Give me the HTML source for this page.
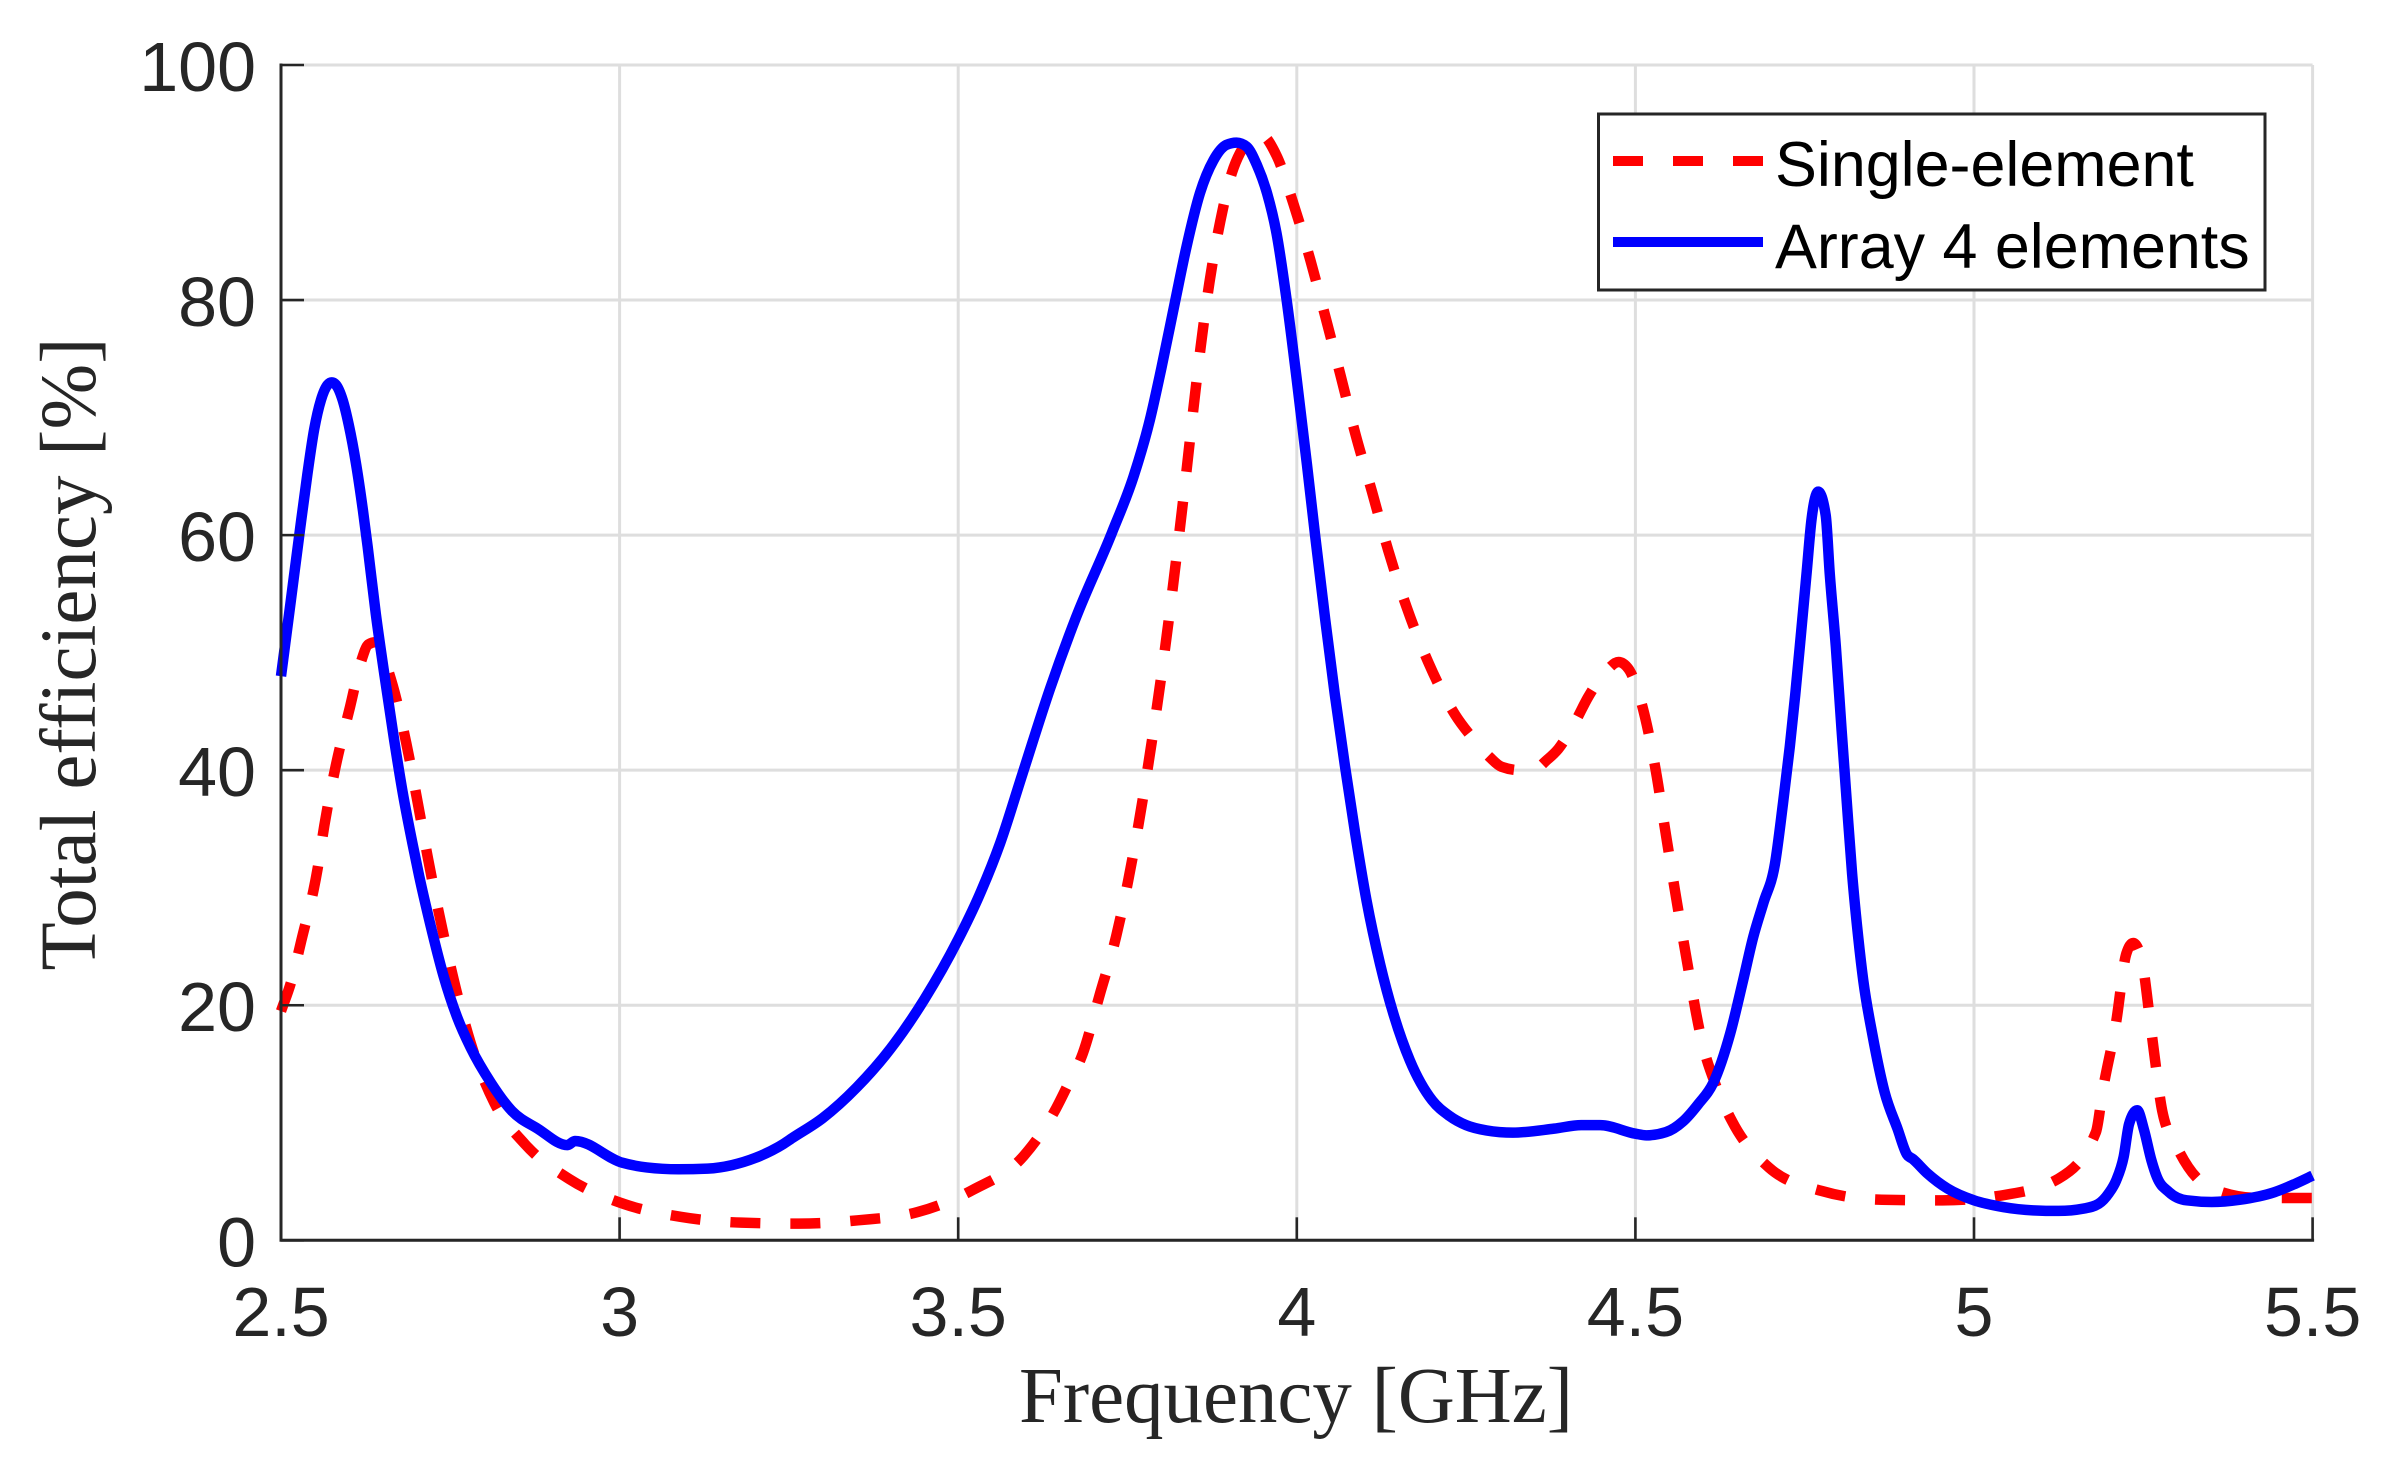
<!DOCTYPE html>
<html lang="en">
<head>
<meta charset="utf-8">
<title>Total efficiency vs frequency</title>
<style>
html,body{margin:0;padding:0;background:#fff;width:2390px;height:1474px;overflow:hidden}
svg{display:block}
.tick{font-family:"Liberation Sans",Arial,sans-serif;font-size:70px;fill:#262626}
.title{font-family:"Liberation Serif","Times New Roman",serif;font-size:79px;fill:#262626}
.leg{font-family:"Liberation Sans",Arial,sans-serif;font-size:62.8px;fill:#000}
</style>
</head>
<body>
<svg id="chart" width="2390" height="1474" viewBox="0 0 2390 1474" xmlns="http://www.w3.org/2000/svg">
  <rect x="0" y="0" width="2390" height="1474" fill="#fff"/>
  <g id="grid"></g>
  <g id="series"></g>
  <g id="axes"></g>
  <text class="title" x="1296" y="1422" text-anchor="middle" textLength="554" lengthAdjust="spacingAndGlyphs">Frequency [GHz]</text>
  <text class="title" transform="translate(95,654) rotate(-90)" text-anchor="middle" textLength="633" lengthAdjust="spacingAndGlyphs">Total efficiency [%]</text>
  <g>
    <rect x="1598.5" y="114" width="666.5" height="176" fill="#fff" stroke="#262626" stroke-width="3"/>
    <line x1="1613" y1="161" x2="1763" y2="161" stroke="#ff0000" stroke-width="10" stroke-dasharray="30 30"/>
    <text class="leg" x="1775" y="186">Single-element</text>
    <line x1="1613" y1="242" x2="1763" y2="242" stroke="#0000ff" stroke-width="10"/>
    <text class="leg" x="1775" y="268">Array 4 elements</text>
  </g>
</svg>
<script>
const xTicks = [2.5, 3, 3.5, 4, 4.5, 5, 5.5];
const xTickLabels = ['2.5', '3', '3.5', '4', '4.5', '5', '5.5'];
const yTicks = [0, 20, 40, 60, 80, 100];
const yTickLabels = ['0', '20', '40', '60', '80', '100'];

const arrayFreq = [2.5,2.514,2.527,2.539,2.549,2.559,2.569,2.575,2.581,2.591,2.6,2.611,2.621,2.628,2.64,2.653,2.667,2.68,2.694,2.704,2.72,2.74,2.76,2.78,2.81,2.841,2.879,2.923,2.934,3.004,3.04,3.087,3.13,3.166,3.2,3.242,3.255,3.3,3.35,3.4,3.45,3.5,3.53,3.562,3.595,3.636,3.674,3.727,3.759,3.783,3.8,3.82,3.837,3.857,3.877,3.896,3.911,3.926,3.941,3.956,3.97,3.985,4.0,4.015,4.027,4.042,4.056,4.071,4.086,4.103,4.123,4.143,4.167,4.2,4.225,4.25,4.28,4.319,4.38,4.42,4.448,4.5,4.516,4.545,4.57,4.593,4.615,4.64,4.659,4.674,4.689,4.706,4.718,4.728,4.736,4.745,4.753,4.76,4.77,4.781,4.787,4.796,4.8045,4.812,4.82,4.829,4.8365,4.85,4.868,4.887,4.901,4.91,4.931,4.961,5.0,5.043,5.087,5.125,5.162,5.184,5.199,5.21,5.221,5.229,5.241,5.251,5.262,5.27,5.288,5.314,5.351,5.392,5.444,5.474,5.5];
const arrayEff = [48,54.2,60,65.2,69,71.5,72.8,73,72.8,71.5,69.4,66,62.1,59,53.3,48,42.6,38,33.8,31,27,22.5,19,16.4,13.4,11,9.5,8.1,8.45,6.6,6.2,6.04,6.1,6.4,7,8.2,8.7,10.4,13,16.3,20.5,25.6,29.2,33.8,39.7,47,53,60.2,65,69.8,74.2,79.8,84.5,89.1,91.9,93.2,93.4,93.05,91.5,89.1,85.7,80,73.2,66,60,52.8,46.5,40.4,34.7,28.9,23.5,19.2,15.3,11.9,10.6,9.8,9.35,9.16,9.5,9.8,9.8,9.07,8.93,9.2,10.1,11.6,13.4,17.6,22.1,25.8,28.7,32,37.2,42,46.4,51.9,56.9,61.3,63.7,61.7,56.7,50.5,43.4,37.4,31.2,25.8,22.1,17.5,12.6,9.5,7.3,6.9,5.7,4.4,3.4,2.83,2.55,2.5,2.7,3.1,4,5.1,7.1,9.9,11.06,9.4,6.8,5.4,4.1,3.4,3.26,3.45,4.1,4.8,5.5];

const singleFreq = [2.5,2.515,2.53,2.554,2.564,2.581,2.602,2.618,2.629,2.64,2.652,2.665,2.685,2.702,2.717,2.74,2.76,2.78,2.815,2.86,2.926,3.006,3.09,3.18,3.265,3.352,3.44,3.522,3.597,3.643,3.66,3.684,3.709,3.733,3.751,3.766,3.781,3.794,3.806,3.817,3.827,3.837,3.847,3.858,3.871,3.887,3.904,3.916,3.935,3.948,3.97,3.995,4.02,4.043,4.065,4.087,4.111,4.135,4.162,4.194,4.234,4.26,4.285,4.302,4.33,4.352,4.369,4.386,4.411,4.43,4.458,4.475,4.49,4.505,4.53,4.544,4.558,4.573,4.6,4.62,4.643,4.697,4.775,4.864,4.953,5.039,5.125,5.18,5.19,5.21,5.225,5.235,5.247,5.263,5.278,5.3,5.351,5.42,5.5];
const singleEff = [19.5,22,25.5,31.6,35.3,40.4,45.4,49.2,50.7,50.9,49.5,47.2,42.3,37.2,32.5,26,21,16.8,11.7,8.2,5.2,3.1,2,1.5,1.42,1.7,2.4,4.3,7.2,11.06,13,15.9,20.9,25.8,30.6,35.3,40.6,45.6,50.6,55.6,60.4,65.4,70.6,76,81.5,86.7,90.8,92.5,93.7,94,92.3,88.2,83.4,78.4,73.5,68.5,63.7,58.7,53.9,49.2,44.7,42.7,41.1,40.3,40,40.1,40.85,41.8,44.1,46.2,48.5,49.2,48.6,46.5,40,34.9,29.9,24.8,16.5,13,10.1,6.2,4.2,3.45,3.4,3.8,5.25,9.2,12.7,18.6,24.4,25.3,24,17.3,11,7.9,4.4,3.6,3.6];

const PLOT_LEFT = 281, PLOT_RIGHT = 2312.6, PLOT_TOP = 65, PLOT_BOTTOM = 1240.3;
const NS = 'http://www.w3.org/2000/svg';
function xScale(f){ return PLOT_LEFT + (f - 2.5) / 3 * (PLOT_RIGHT - PLOT_LEFT); }
function yScale(v){ return PLOT_BOTTOM - v / 100 * (PLOT_BOTTOM - PLOT_TOP); }
function mk(tag, attrs, parent){
  const el = document.createElementNS(NS, tag);
  for (const k in attrs) el.setAttribute(k, attrs[k]);
  parent.appendChild(el);
  return el;
}
function curvePath(fs, vs){
  const xs = fs.map(xScale), ys = vs.map(yScale), n = xs.length;
  const s = [], m = [];
  for (let i = 0; i < n - 1; i++) s.push((ys[i + 1] - ys[i]) / (xs[i + 1] - xs[i]));
  m[0] = s[0];
  m[n - 1] = s[n - 2];
  for (let i = 1; i < n - 1; i++){
    const h0 = xs[i] - xs[i - 1], h1 = xs[i + 1] - xs[i];
    if (s[i - 1] * s[i] <= 0){ m[i] = 0; continue; }
    const p = (s[i - 1] * h1 + s[i] * h0) / (h0 + h1);
    m[i] = Math.sign(s[i]) * 2 * Math.min(Math.abs(s[i - 1]), Math.abs(s[i]), 0.5 * Math.abs(p));
  }
  let d = 'M' + xs[0].toFixed(2) + ' ' + ys[0].toFixed(2);
  for (let i = 0; i < n - 1; i++){
    const dx = (xs[i + 1] - xs[i]) / 3;
    d += 'C' + (xs[i] + dx).toFixed(2) + ' ' + (ys[i] + m[i] * dx).toFixed(2) + ' ' + (xs[i + 1] - dx).toFixed(2) + ' ' + (ys[i + 1] - m[i + 1] * dx).toFixed(2) + ' ' + xs[i + 1].toFixed(2) + ' ' + ys[i + 1].toFixed(2);
  }
  return d;
}
const gridG = document.getElementById('grid');
const axesG = document.getElementById('axes');
const seriesG = document.getElementById('series');

xTicks.forEach(function(t, i){
  const gl = mk('line', {x1:xScale(t), y1:PLOT_TOP, x2:xScale(t), y2:PLOT_BOTTOM, stroke:'#dedede', 'stroke-width':3}, gridG);
  
  
  const tk = mk('line', {x1:xScale(t), y1:PLOT_BOTTOM, x2:xScale(t), y2:PLOT_BOTTOM - 23, stroke:'#262626', 'stroke-width':2.6}, axesG);
  
  
  const lb = mk('text', {x:xScale(t), y:1336, 'text-anchor':'middle', class:'tick'}, axesG);
  lb.textContent = xTickLabels[i];
  
  
});
yTicks.forEach(function(t, i){
  const gl = mk('line', {x1:PLOT_LEFT, y1:yScale(t), x2:PLOT_RIGHT, y2:yScale(t), stroke:'#dedede', 'stroke-width':3}, gridG);
  
  
  const tk = mk('line', {x1:PLOT_LEFT, y1:yScale(t), x2:PLOT_LEFT + 23, y2:yScale(t), stroke:'#262626', 'stroke-width':2.6}, axesG);
  
  
  const lb = mk('text', {x:256, y:yScale(t) + 26, 'text-anchor':'end', class:'tick'}, axesG);
  lb.textContent = yTickLabels[i];
  
  
});
const xAxis = mk('line', {x1:PLOT_LEFT - 1.5, y1:PLOT_BOTTOM, x2:PLOT_RIGHT + 1.5, y2:PLOT_BOTTOM, stroke:'#262626', 'stroke-width':3}, axesG);


const yAxis = mk('line', {x1:PLOT_LEFT, y1:PLOT_TOP - 1.5, x2:PLOT_LEFT, y2:PLOT_BOTTOM, stroke:'#262626', 'stroke-width':3}, axesG);



const singleLine = mk('path', {d:curvePath(singleFreq, singleEff), fill:'none', stroke:'#ff0000', 'stroke-width':10.5, 'stroke-dasharray':'30 30', 'stroke-linejoin':'round'}, seriesG);


const arrayLine = mk('path', {d:curvePath(arrayFreq, arrayEff), fill:'none', stroke:'#0000ff', 'stroke-width':10.5, 'stroke-linejoin':'round'}, seriesG);


</script>
</body>
</html>
